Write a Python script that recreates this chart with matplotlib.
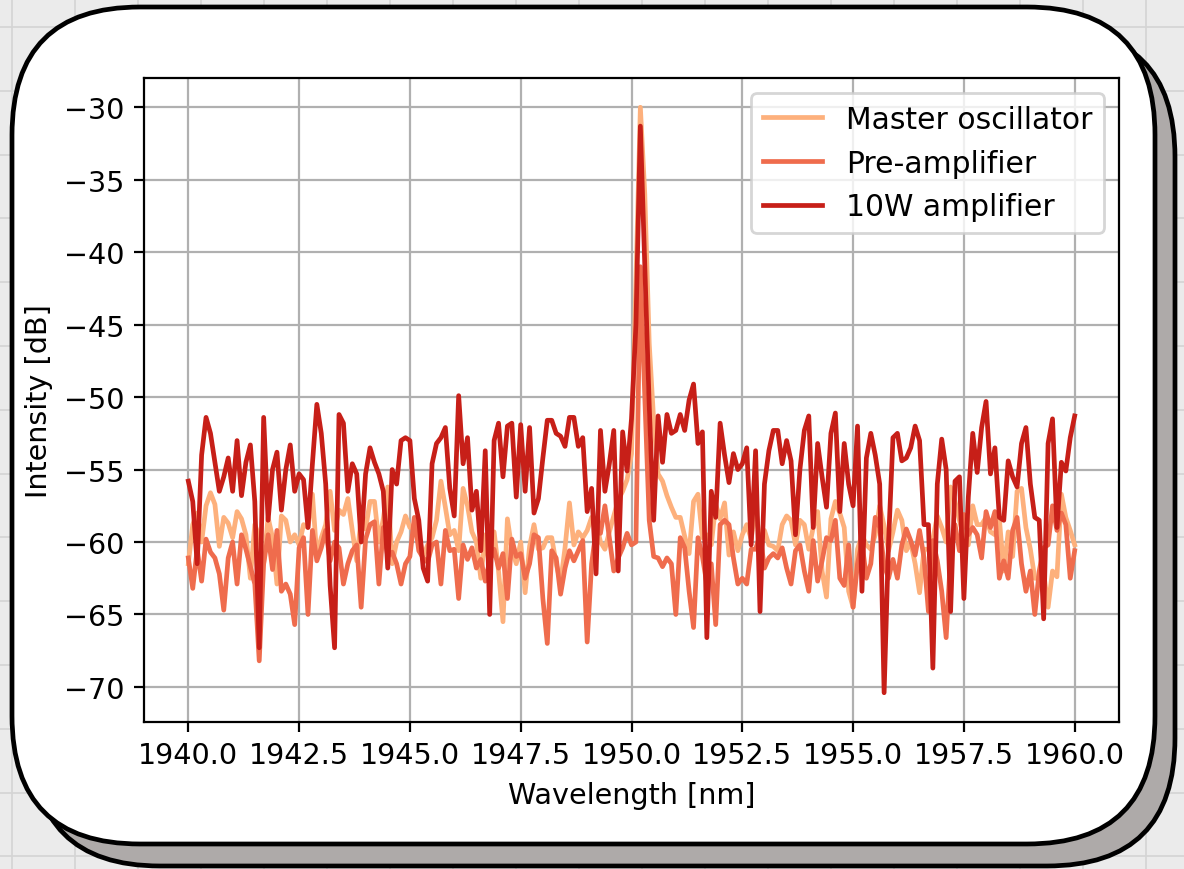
import numpy as np
import matplotlib
matplotlib.use('Agg')
import matplotlib.pyplot as plt
from matplotlib.patches import FancyBboxPatch
from matplotlib.lines import Line2D

# spectra, 0.1 nm steps from 1940.0 to 1960.0 nm
wavelength = np.linspace(1940.0, 1960.0, 201)

master_osc = [
    # 1940.0 - 1944.1
    -61.5, -58.8, -58.0, -60.0, -57.5, -56.6, -57.4, -60.3, -58.3, -58.7,
    -59.7, -57.9, -58.4, -59.5, -62.5, -58.8, -59.6, -61.5, -58.3, -59.7,
    -62.9, -58.2, -58.5, -60.0, -59.5, -60.2, -58.8, -59.0, -56.7, -61.0,
    -59.7, -58.8, -56.5, -59.2, -57.8, -58.1, -57.0, -59.2, -61.3, -58.3,
    -59.1, -57.2,
    # 1944.2 - 1948.1
    -57.2, -60.0, -58.4, -56.2, -61.5, -60.0, -59.3, -58.2, -59.0, -58.8,
    -59.5, -61.0, -60.2, -59.7, -58.5, -55.8, -57.6, -59.5, -59.2, -60.6,
    -56.3, -57.5, -59.3, -60.0, -62.5, -59.5, -61.8, -59.3, -62.0, -65.5,
    -58.4, -60.5, -61.5, -60.0, -63.5, -60.3, -58.8, -60.5, -60.4, -59.7,
    # 1948.2 - 1952.2
    -59.7, -61.5, -62.8, -60.4, -57.3, -60.2, -59.3, -59.7, -59.2, -58.3,
    -58.6, -60.0, -60.5, -59.3, -58.2, -57.1, -56.5, -55.7, -53.9, -42.0,
    -30.0, -36.0, -46.3, -51.6, -55.3, -55.8, -56.8, -57.6, -58.3, -58.3,
    -59.6, -60.8, -57.2, -56.7, -59.7, -59.5, -60.2, -57.4, -58.4, -57.3,
    -60.9,
    # 1952.3 - 1956.2
    -59.3, -60.6, -59.5, -58.8, -59.8, -57.6, -60.1, -59.2, -60.2, -60.3,
    -60.6, -58.8, -58.2, -58.5, -60.2, -58.5, -58.8, -60.5, -59.0, -57.9,
    -62.0, -63.8, -58.4, -57.2, -58.0, -59.0, -63.4, -64.5, -60.5, -59.5,
    -60.2, -60.5, -59.5, -57.5, -58.9, -60.6, -59.3, -57.8, -58.5, -60.6,
    # 1956.3 - 1960.0
    -60.0, -61.5, -63.5, -60.5, -60.5, -59.8, -58.2, -59.0, -60.0, -56.2,
    -57.2, -58.5, -59.7, -60.2, -57.5, -58.8, -58.8, -58.3, -59.3, -59.5,
    -58.4, -62.0, -59.3, -61.0, -56.5, -56.3, -59.0, -60.5, -62.5, -62.5,
    -62.1, -64.5, -62.0, -62.4, -56.7, -58.3, -59.2, -60.2,
]

pre_amp = [
    -61.1, -63.2, -60.5, -62.7, -59.8, -60.7, -61.1, -62.2, -64.7, -61.1,
    -60.0, -62.9, -59.5, -60.5, -61.7, -62.9, -68.2, -61.5, -59.5, -61.9,
    -59.2, -63.4, -62.9, -63.6, -65.7, -60.4, -59.7, -65.0, -59.2, -61.3,
    -60.4, -59.2, -61.3, -60.0, -60.4, -62.9, -61.5, -60.6, -60.2, -64.5,
    -59.8, -58.8,
    -58.6, -62.9, -59.0, -61.0, -60.7, -61.5, -62.9, -61.5, -61.0, -58.3,
    -60.6, -61.1, -61.4, -60.2, -60.0, -62.9, -59.2, -60.6, -60.5, -63.9,
    -60.2, -61.2, -60.4, -61.8, -61.2, -62.7, -61.3, -60.5, -61.8, -60.8,
    -63.9, -59.8, -61.0, -60.8, -62.5, -61.5, -59.5, -59.7, -63.9, -67.0,
    -60.6, -61.1, -63.6, -61.8, -60.6, -61.3, -60.6, -59.9, -66.9, -61.5,
    -59.2, -59.4, -57.5, -59.7, -62.0, -61.1, -60.4, -59.4, -60.2, -60.0,
    -41.0, -50.0, -58.5, -61.0, -61.1, -61.7, -61.1, -61.5, -65.0, -59.7,
    -60.4, -63.4, -65.9, -59.7, -61.0, -62.9, -61.5, -65.7, -58.8, -58.5,
    -58.8,
    -61.1, -62.9, -62.5, -62.9, -60.5, -60.5, -59.5, -61.8, -61.1, -60.8,
    -61.1, -60.4, -61.8, -62.9, -60.6, -60.2, -62.0, -63.4, -59.9, -62.7,
    -61.3, -59.7, -59.9, -58.5, -62.5, -63.0, -60.2, -64.5, -61.5, -60.0,
    -62.5, -61.5, -58.3, -59.0, -61.6, -62.5, -61.2, -62.5, -60.2, -59.1,
    -59.9, -60.9, -59.2, -61.1, -64.8, -59.9, -61.3, -63.4, -66.6, -60.9,
    -58.8, -60.6, -58.1, -59.5, -59.0, -59.5, -61.1, -57.9, -59.0, -57.9,
    -62.5, -61.3, -62.5, -59.2, -58.3, -61.5, -63.4, -62.0, -65.0, -62.0,
    -60.4, -60.2, -57.5, -59.2, -58.0, -58.8, -62.5, -60.6,
]

amp_10w = [
    -55.8, -57.2, -61.5, -54.0, -51.4, -52.5, -54.5, -56.5, -55.5, -54.2,
    -56.5, -53.0, -56.8, -54.5, -53.3, -57.2, -67.3, -51.4, -58.5, -55.0,
    -53.8, -57.8, -55.0, -53.3, -56.5, -55.3, -55.7, -59.0, -54.6, -50.5,
    -52.5, -56.0, -63.0, -67.3, -51.2, -51.8, -56.5, -54.6, -55.3, -60.0,
    -55.3, -53.5,
    -54.5, -55.3, -56.5, -61.8, -55.0, -56.0, -53.0, -52.8, -53.0, -57.0,
    -58.5, -61.8, -62.7, -54.6, -53.2, -52.8, -52.1, -56.3, -58.2, -49.9,
    -54.6, -52.8, -57.8, -56.5, -60.6, -53.7, -65.0, -53.0, -51.8, -55.5,
    -52.0, -51.8, -56.9, -51.9, -56.5, -52.1, -58.0, -57.0, -54.2, -51.6,
    -51.6, -52.5, -52.7, -53.4, -51.4, -51.4, -53.4, -52.8, -57.9, -56.3,
    -62.2, -52.3, -56.5, -54.6, -52.3, -62.0, -52.4, -55.1, -51.5, -45.0,
    -31.3, -41.0, -50.6, -58.5, -51.3, -54.5, -51.2, -52.5, -52.3, -51.2,
    -52.3, -50.2, -49.1, -53.2, -52.4, -66.6, -56.5, -58.3, -51.8, -54.0,
    -55.9,
    -53.9, -55.0, -54.6, -53.5, -60.2, -53.7, -64.8, -56.0, -53.7, -52.3,
    -52.3, -54.6, -53.0, -54.4, -59.5, -55.0, -52.3, -51.3, -59.0, -53.2,
    -55.5, -57.6, -52.5, -51.1, -57.9, -53.2, -56.0, -57.5, -52.0, -63.4,
    -54.2, -52.5, -54.0, -56.0, -70.4, -60.0, -52.8, -52.5, -54.4, -54.2,
    -53.5, -52.0, -53.0, -58.8, -58.8, -68.7, -56.0, -52.9, -55.0, -64.8,
    -55.8, -55.5, -63.9, -56.9, -52.5, -55.2, -52.1, -50.3, -55.3, -53.5,
    -58.3, -58.5, -54.4, -55.5, -56.2, -53.2, -52.1, -56.0, -58.3, -58.5,
    -65.3, -53.2, -51.5, -59.0, -54.5, -55.1, -52.8, -51.3,
]

labels = ['Master oscillator', 'Pre-amplifier', '10W amplifier']
colors = ['#fdb07c', '#ef6c4d', '#c71f18']

DPI = 200
plt.rcParams['font.size'] = 10.3

fig = plt.figure(figsize=(1184 / DPI, 870 / DPI), dpi=DPI)
fig.patch.set_facecolor('#ebebeb')

# graph paper background
px = fig.dpi_scale_trans
for gx in np.arange(12, 1184, 63):
    fig.add_artist(Line2D([gx / DPI, gx / DPI], [0, 870 / DPI], transform=px,
                          color='#d4d4d4', lw=0.6, zorder=-20))
for gy in np.arange(28, 870, 63.8):
    yy = (870 - gy) / DPI
    fig.add_artist(Line2D([0, 1184 / DPI], [yy, yy], transform=px,
                          color='#d4d4d4', lw=0.6, zorder=-20))

# shadow card + white card
box_w, box_h, rad = 1143 / DPI, 837 / DPI, 0.64
shadow = FancyBboxPatch((32 / DPI, 3 / DPI), box_w, box_h,
                        boxstyle='round,pad=0,rounding_size=%.2f' % rad,
                        transform=px, facecolor='#aeaaa9', edgecolor='black',
                        lw=1.7, zorder=-10)
card = FancyBboxPatch((12 / DPI, 25 / DPI), box_w, box_h,
                      boxstyle='round,pad=0,rounding_size=%.2f' % rad,
                      transform=px, facecolor='white', edgecolor='black',
                      lw=1.7, zorder=-9)
fig.add_artist(shadow)
fig.add_artist(card)

ax = fig.add_axes([144 / 1184, 147 / 870, 975 / 1184, 644 / 870])
ax.plot(wavelength, master_osc, color=colors[0], lw=1.7, label=labels[0])
ax.plot(wavelength, pre_amp, color=colors[1], lw=1.7, label=labels[1])
ax.plot(wavelength, amp_10w, color=colors[2], lw=1.7, label=labels[2])

ax.set_xlabel('Wavelength [nm]')
ax.set_ylabel('Intensity [dB]')
ax.grid(True)
ax.legend(loc='upper right', fontsize=10.7)

fig.savefig('out.png', dpi=DPI, facecolor=fig.get_facecolor())
